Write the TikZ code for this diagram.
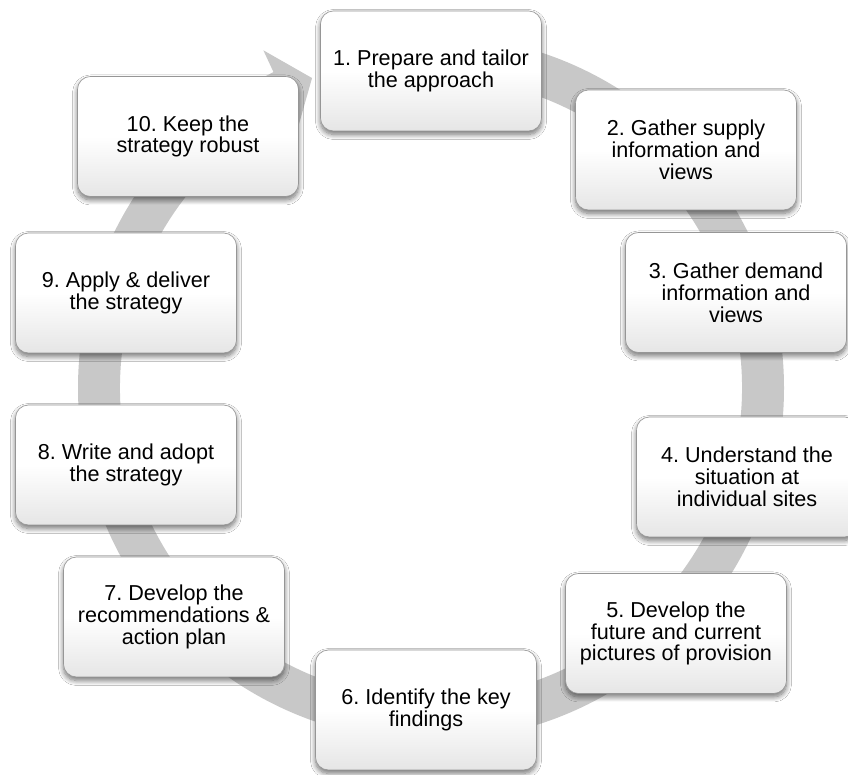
\documentclass[tikz,border=0pt]{standalone}
\usepackage{fontspec}
\setmainfont{Liberation Sans}
\usetikzlibrary{calc,shadows.blur}
\definecolor{ringgray}{RGB}{200,200,200}
\definecolor{rimgray}{RGB}{150,150,150}
\begin{document}
\frenchspacing
\begin{tikzpicture}[x=1bp,y=1bp,
  stepbox/.style={rectangle, rounded corners=13bp, minimum width=221bp, minimum height=120bp,
    inner sep=0pt, align=center, text=black,
    font=\fontsize{21.6bp}{21.8bp}\selectfont\frenchspacing,
    draw=rimgray, line width=0.6bp,
    top color=white, bottom color=black!10, middle color=white,
    blur shadow={shadow xshift=0bp, shadow yshift=-3.5bp, shadow blur radius=5bp, shadow blur steps=10, shadow opacity=55}},
  ringfill/.style={fill=ringgray, draw=none}]
\useasboundingbox (0,0) rectangle (848,775);
\fill[white] (0,0) rectangle (848,775);
\coordinate (c) at (431,387);
% ring arrow
\path[ringfill]
  ($(c)+(90:353)$) arc[start angle=90, end angle=-243.5, radius=353]
  -- ($(c)+(116.4:377)$)
  -- ($(c)+(111:332)$)
  -- ($(c)+(117.5:290)$)
  -- ($(c)+(116.5:311)$) arc[start angle=-243.5, end angle=90, radius=311]
  -- cycle;
% boxes
\node[stepbox] (b1)  at (431,704)   {1. Prepare and tailor\\the approach};
\node[stepbox] (b2)  at (686,625)   {2. Gather supply\\information and\\views};
\node[stepbox] (b3)  at (736,482.5) {3. Gather demand\\information and\\views};
\node[stepbox] (b4)  at (747,298)   {4. Understand the\\situation at\\individual sites};
\node[stepbox] (b5)  at (676,141.5) {5. Develop the\\future and current\\pictures of provision};
\node[stepbox] (b6)  at (426,65)    {6. Identify the key\\findings};
\node[stepbox] (b7)  at (174,158)   {7. Develop the\\recommendations \&\\action plan};
\node[stepbox] (b8)  at (126,310)   {8. Write and adopt\\the strategy};
\node[stepbox] (b9)  at (126,482)   {9. Apply \& deliver\\the strategy};
\node[stepbox] (b10) at (188,638.5) {10. Keep the\\strategy robust};
\end{tikzpicture}
\end{document}
